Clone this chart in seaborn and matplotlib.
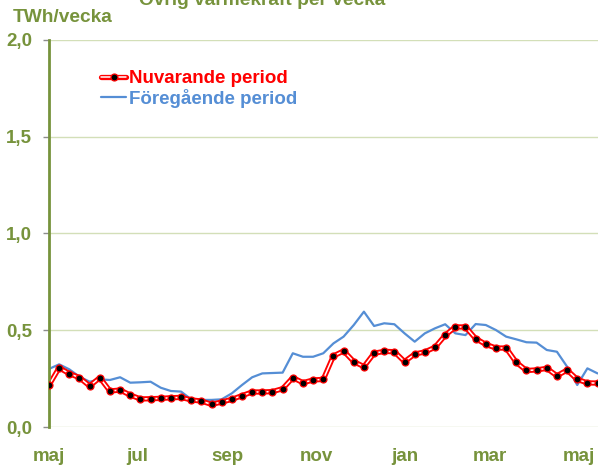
import numpy as np
import pandas as pd
import matplotlib
matplotlib.use('Agg')
import matplotlib.pyplot as plt
import matplotlib.dates as mdates
import matplotlib.patheffects as pe
from matplotlib.ticker import FuncFormatter
from matplotlib.legend_handler import HandlerTuple
import seaborn as sns

sns.set_style('white')
plt.rcParams['font.family'] = ['Liberation Sans', 'DejaVu Sans']
plt.rcParams['font.weight'] = 'bold'

# weekly values, TWh
weeks = pd.date_range('2013-05-01', periods=55, freq='7D')
nuvarande = [0.217, 0.306, 0.276, 0.255, 0.212, 0.255, 0.186, 0.191, 0.165, 0.145,
             0.146, 0.148, 0.151, 0.153, 0.140, 0.134, 0.117, 0.129, 0.143, 0.162,
             0.181, 0.181, 0.183, 0.198, 0.255, 0.229, 0.243, 0.246, 0.367, 0.393,
             0.338, 0.312, 0.381, 0.391, 0.389, 0.338, 0.377, 0.388, 0.412, 0.474,
             0.517, 0.517, 0.457, 0.427, 0.408, 0.408, 0.334, 0.292, 0.295, 0.303,
             0.265, 0.294, 0.246, 0.228, 0.227]
foregaende = [0.300, 0.324, 0.298, 0.260, 0.234, 0.246, 0.243, 0.257, 0.229, 0.231,
              0.234, 0.203, 0.186, 0.183, 0.143, 0.140, 0.140, 0.143, 0.174, 0.217,
              0.257, 0.277, 0.279, 0.281, 0.381, 0.363, 0.363, 0.381, 0.432, 0.467,
              0.527, 0.596, 0.522, 0.536, 0.531, 0.484, 0.441, 0.484, 0.510, 0.531,
              0.484, 0.475, 0.532, 0.527, 0.501, 0.467, 0.453, 0.438, 0.436, 0.398,
              0.389, 0.312, 0.217, 0.303, 0.277]
month_names = {1: 'jan', 3: 'mar', 5: 'maj', 7: 'jul', 9: 'sep', 11: 'nov'}
y_ticks = [0.0, 0.5, 1.0, 1.5, 2.0]
labels = ['Nuvarande period', 'Föregående period']

olive = '#77933C'
grid_c = '#D3DFB8'
blue = '#558ED5'
fs = 13.5

df = pd.DataFrame({'vecka': weeks, 'nu': nuvarande, 'fg': foregaende})

fig = plt.figure(figsize=(5.98, 4.69), dpi=100)
ax = fig.add_axes([49 / 598, 42 / 469, 550 / 598, 387 / 469])

sns.lineplot(data=df, x='vecka', y='fg', ax=ax, color=blue, lw=1.6)
l_blue = ax.lines[-1]
sns.lineplot(data=df, x='vecka', y='nu', ax=ax, color='white', lw=1.1)
l_red = ax.lines[-1]
l_red.set_path_effects([pe.Stroke(linewidth=3.8, foreground='red'), pe.Normal()])
sns.lineplot(data=df, x='vecka', y='nu', ax=ax, linestyle='', marker='o',
             markersize=5, markerfacecolor='black', markeredgecolor='red',
             markeredgewidth=0.9, zorder=4)
l_dots = ax.lines[-1]

ax.set_ylim(0, 2)
ax.set_xlim(weeks[0], weeks[0] + pd.Timedelta(days=379))
ax.set_xlabel('')
ax.set_ylabel('')

ax.set_yticks(y_ticks)
ax.yaxis.set_major_formatter(FuncFormatter(lambda v, p: f'{v:.1f}'.replace('.', ',')))
ax.xaxis.set_major_locator(mdates.MonthLocator(bymonth=list(month_names.keys())))
ax.xaxis.set_major_formatter(FuncFormatter(lambda v, p: month_names[mdates.num2date(v).month]))

ax.tick_params(axis='y', left=True, direction='out', length=4.3, width=1, color='#8C8C8C',
               pad=8, labelsize=fs, labelcolor=olive)
ax.tick_params(axis='x', length=0, pad=15, labelsize=fs, labelcolor=olive)
for t in ax.get_xticklabels() + ax.get_yticklabels():
    t.set_fontweight('bold')

ax.yaxis.grid(True, color=grid_c, lw=1)
ax.xaxis.grid(False)
for s in ['top', 'right', 'bottom']:
    ax.spines[s].set_visible(False)
ax.spines['left'].set_color(olive)
ax.spines['left'].set_linewidth(2)

leg = ax.legend([(l_red, l_dots), l_blue], labels,
                handler_map={tuple: HandlerTuple(ndivide=1)},
                loc='upper left', bbox_to_anchor=(101 / 598, 1 - 70 / 469),
                bbox_transform=fig.transFigure, frameon=False, borderpad=0,
                borderaxespad=0, handlelength=1.35, handletextpad=0.15,
                labelspacing=0.1, numpoints=1, prop={'size': fs, 'weight': 'bold'})
for t, c in zip(leg.get_texts(), ['red', blue]):
    t.set_color(c)

fig.text(262 / 598, 1 - 5 / 469, 'Övrig värmekraft per vecka', ha='center', va='baseline',
         fontsize=fs + 0.3, color=olive, fontweight='bold')
fig.text(13 / 598, 1 - 22.5 / 469, 'TWh/vecka', ha='left', va='baseline',
         fontsize=fs + 0.3, color=olive, fontweight='bold')

fig.savefig('out.png', dpi=100)
